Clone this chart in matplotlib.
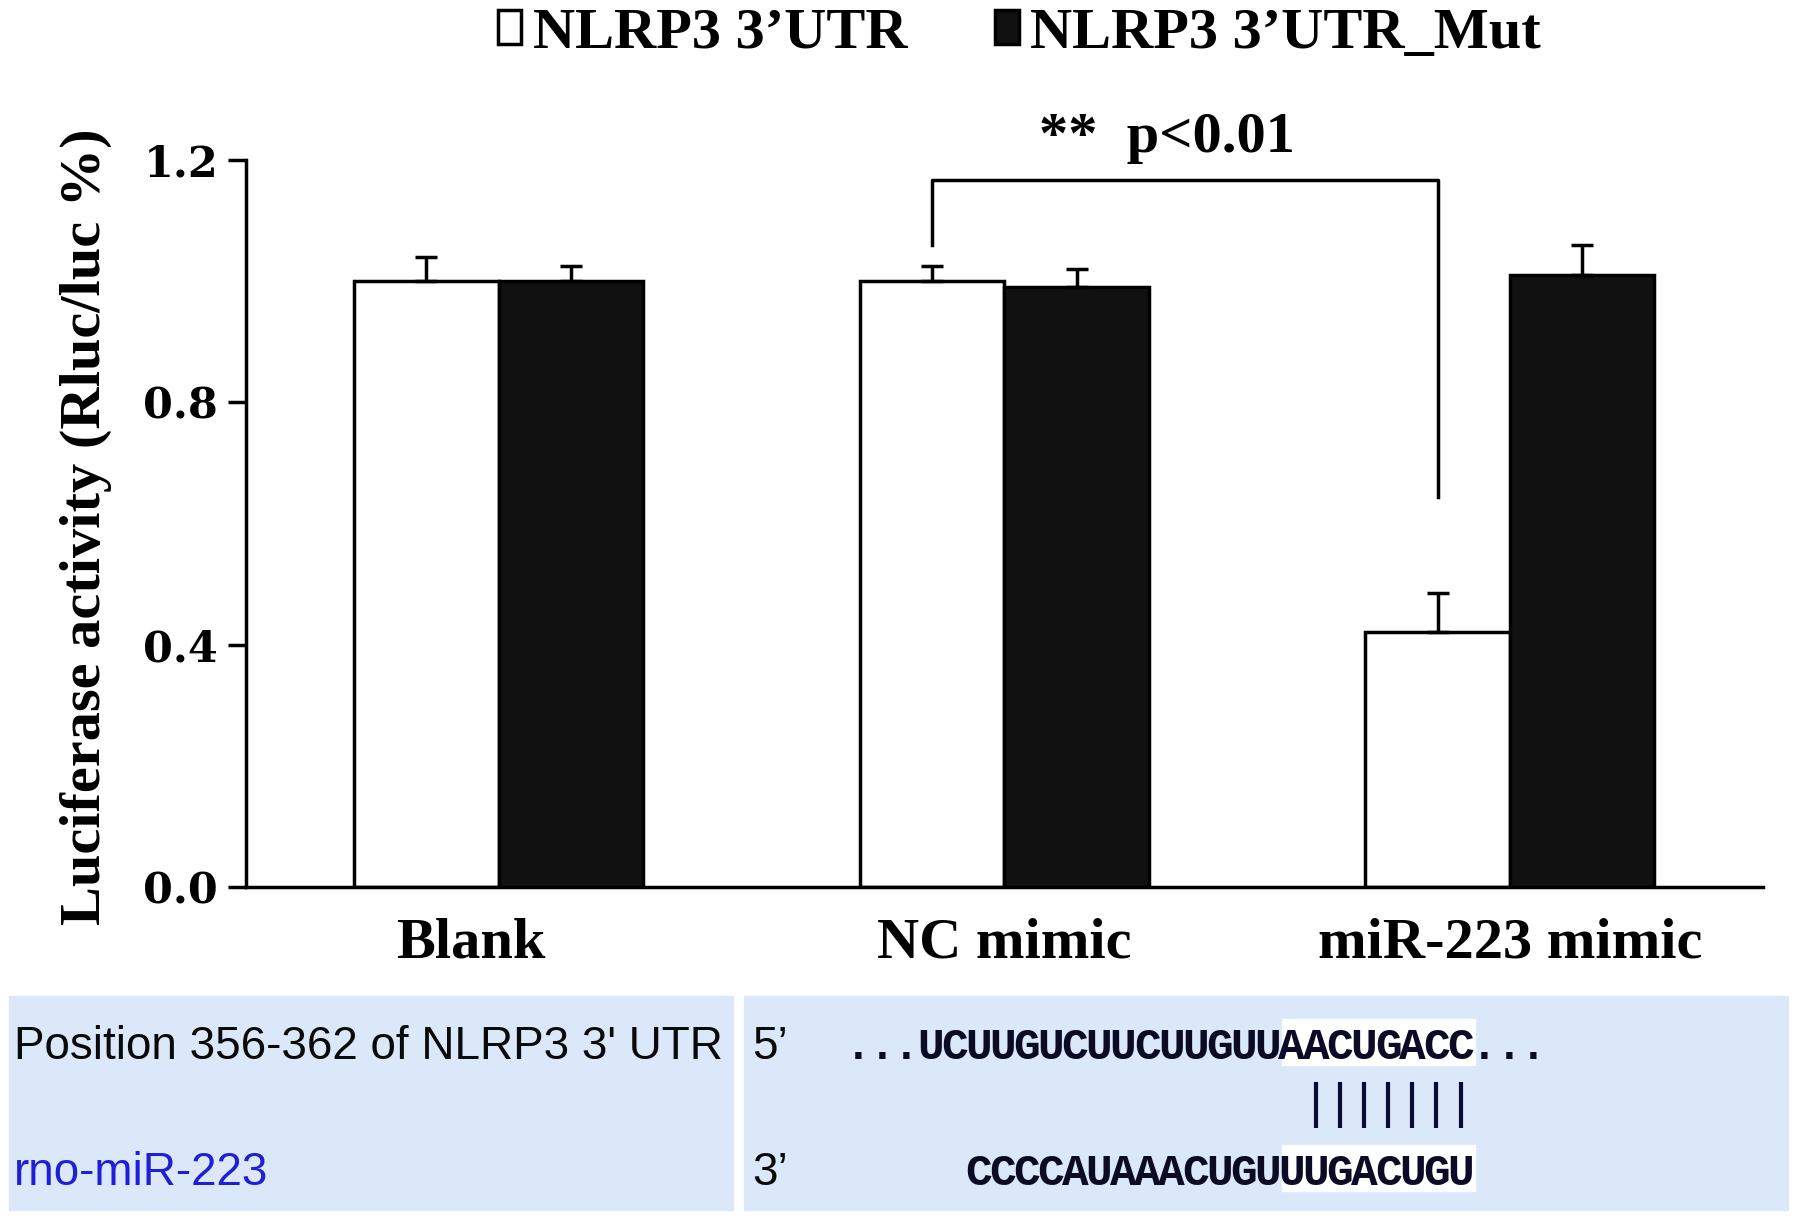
import numpy as np
import matplotlib
matplotlib.use('Agg')
import matplotlib.pyplot as plt
import matplotlib.transforms as mtransforms
from matplotlib.patches import Patch, Rectangle

# --- data ---
groups = ['Blank', 'NC mimic', 'miR-223 mimic']
series = ['NLRP3 3’UTR', 'NLRP3 3’UTR_Mut']
utr_wt = [1.00, 1.00, 0.42]
utr_wt_err = [0.04, 0.025, 0.065]
utr_mut = [1.00, 0.99, 1.01]
utr_mut_err = [0.025, 0.03, 0.05]
yticks = [0.0, 0.4, 0.8, 1.2]

# significance bracket: NC mimic vs miR-223 mimic (3'UTR bars)
sig_text = '**  p<0.01'
bracket_top = 1.166
bracket_left_end = 1.06
bracket_right_end = 0.643

# binding site panel
site_label = 'Position 356-362 of NLRP3 3\' UTR'
mirna_label = 'rno-miR-223'
utr_seq = 'UCUUGUCUUCUUGUUAACUGACC'
mir_seq = 'CCCCAUAAACUGUUUGACUGU'
seed_len = 8
n_pairs = 7

serif = ['Liberation Serif', 'DejaVu Serif']
fig = plt.figure(figsize=(17.95, 12.2), dpi=100)

# --- bar chart ---
ax = fig.add_axes([0.137, 0.273, 0.845, 0.596])
ax.set_facecolor('none')
x = np.arange(len(groups))
w = 0.286
ekw = dict(ecolor='black', elinewidth=2.5, capsize=8, capthick=2.5)
ax.bar(x - w / 2, utr_wt, w, color='white', edgecolor='black', linewidth=2.5,
       yerr=[np.zeros(len(x)), utr_wt_err], error_kw=ekw)
ax.bar(x + w / 2, utr_mut, w, color='#111111', edgecolor='black', linewidth=2.5,
       yerr=[np.zeros(len(x)), utr_mut_err], error_kw=ekw)

ax.set_xlim(-0.5, 2.5)
ax.set_ylim(0, 1.2)
ax.set_yticks(yticks)
ax.set_yticklabels([f'{t:.1f}' for t in yticks], fontfamily='DejaVu Serif',
                   fontweight='bold', fontsize=31)
ax.set_xticks(x)
ax.set_xticklabels(groups, fontfamily=serif, fontweight='bold', fontsize=42)
ax.tick_params(axis='y', length=13, width=2.5, pad=7)
ax.tick_params(axis='x', length=0, pad=22)
for s in ['top', 'right']:
    ax.spines[s].set_visible(False)
for s in ['left', 'bottom']:
    ax.spines[s].set_linewidth(2.5)

# the "Blank" label sits a bit left of its group in the original
lbl = ax.get_xticklabels()[0]
lbl.set_transform(lbl.get_transform() + mtransforms.ScaledTranslation(-0.28, 0, fig.dpi_scale_trans))

# bracket
xl = x[1] - w / 2
xr = x[2] - w / 2
ax.plot([xl, xl, xr, xr], [bracket_left_end, bracket_top, bracket_top, bracket_right_end],
        color='black', lw=2.5, clip_on=False)
ax.text((xl + xr) / 2 - 0.035, 1.213, sig_text, ha='center', va='baseline',
        fontfamily=serif, fontweight='bold', fontsize=42)

fig.text(86 / 1795, 1 - 527 / 1220, 'Luciferase activity (Rluc/luc %)', rotation=90,
         ha='center', va='center', fontfamily=serif, fontweight='bold', fontsize=42)

handles = [Patch(facecolor='white', edgecolor='black', linewidth=2.5),
           Patch(facecolor='#111111', edgecolor='black', linewidth=2.5)]
fig.legend(handles, series, loc='center', bbox_to_anchor=(0.568, 1 - 34 / 1220), ncol=2,
           frameon=False, handlelength=0.4, handleheight=0.52, handletextpad=0.2,
           columnspacing=1.5, prop=dict(family=serif, weight='bold', size=42))

# --- binding site panel (pixel coordinates) ---
pan = fig.add_axes([0, 0, 1, 1], zorder=-1)
pan.set_xlim(0, 1795)
pan.set_ylim(1220, 0)
pan.axis('off')
box_col = '#dae8fa'
pan.add_patch(Rectangle((9, 996), 724, 214, color=box_col))
pan.add_patch(Rectangle((744, 996), 1044, 214, color=box_col))

pan.text(14, 1059, site_label, fontfamily='Liberation Sans', fontsize=33, color='#0a0a0a')
pan.text(14, 1185, mirna_label, fontfamily='Liberation Sans', fontsize=33, color='#1f1fd6')
pan.text(752, 1059, '5’', fontfamily='Liberation Sans', fontsize=33, color='#0a0a0a')
pan.text(752, 1185, '3’', fontfamily='Liberation Sans', fontsize=33, color='#0a0a0a')

pitch = 24.1
x0 = 858
top_line = '...' + utr_seq + '...'
seed_start = 3 + len(utr_seq) - seed_len
mir_start = seed_start - (len(mir_seq) - seed_len)

pan.add_patch(Rectangle((x0 + (seed_start - 0.4) * pitch, 1019), seed_len * pitch, 46,
                        color='white', zorder=1))
pan.add_patch(Rectangle((x0 + (seed_start - 0.4) * pitch, 1145), seed_len * pitch, 46,
                        color='white', zorder=1))

seq_kw = dict(fontfamily='Liberation Mono', fontweight='bold', fontsize=32,
              color='#0b0b26', ha='center', va='baseline', zorder=2)
for i, ch in enumerate(top_line):
    pan.text(x0 + i * pitch, 1059, ch, **seq_kw)
for i, ch in enumerate(mir_seq):
    pan.text(x0 + (mir_start + i) * pitch, 1185, ch, **seq_kw)

pair_idx = np.arange(seed_start + seed_len - n_pairs, seed_start + seed_len)
pan.vlines(x0 + pair_idx * pitch, 1082, 1128, color='#0b0b36', lw=3)

fig.savefig('out.png', dpi=100)
